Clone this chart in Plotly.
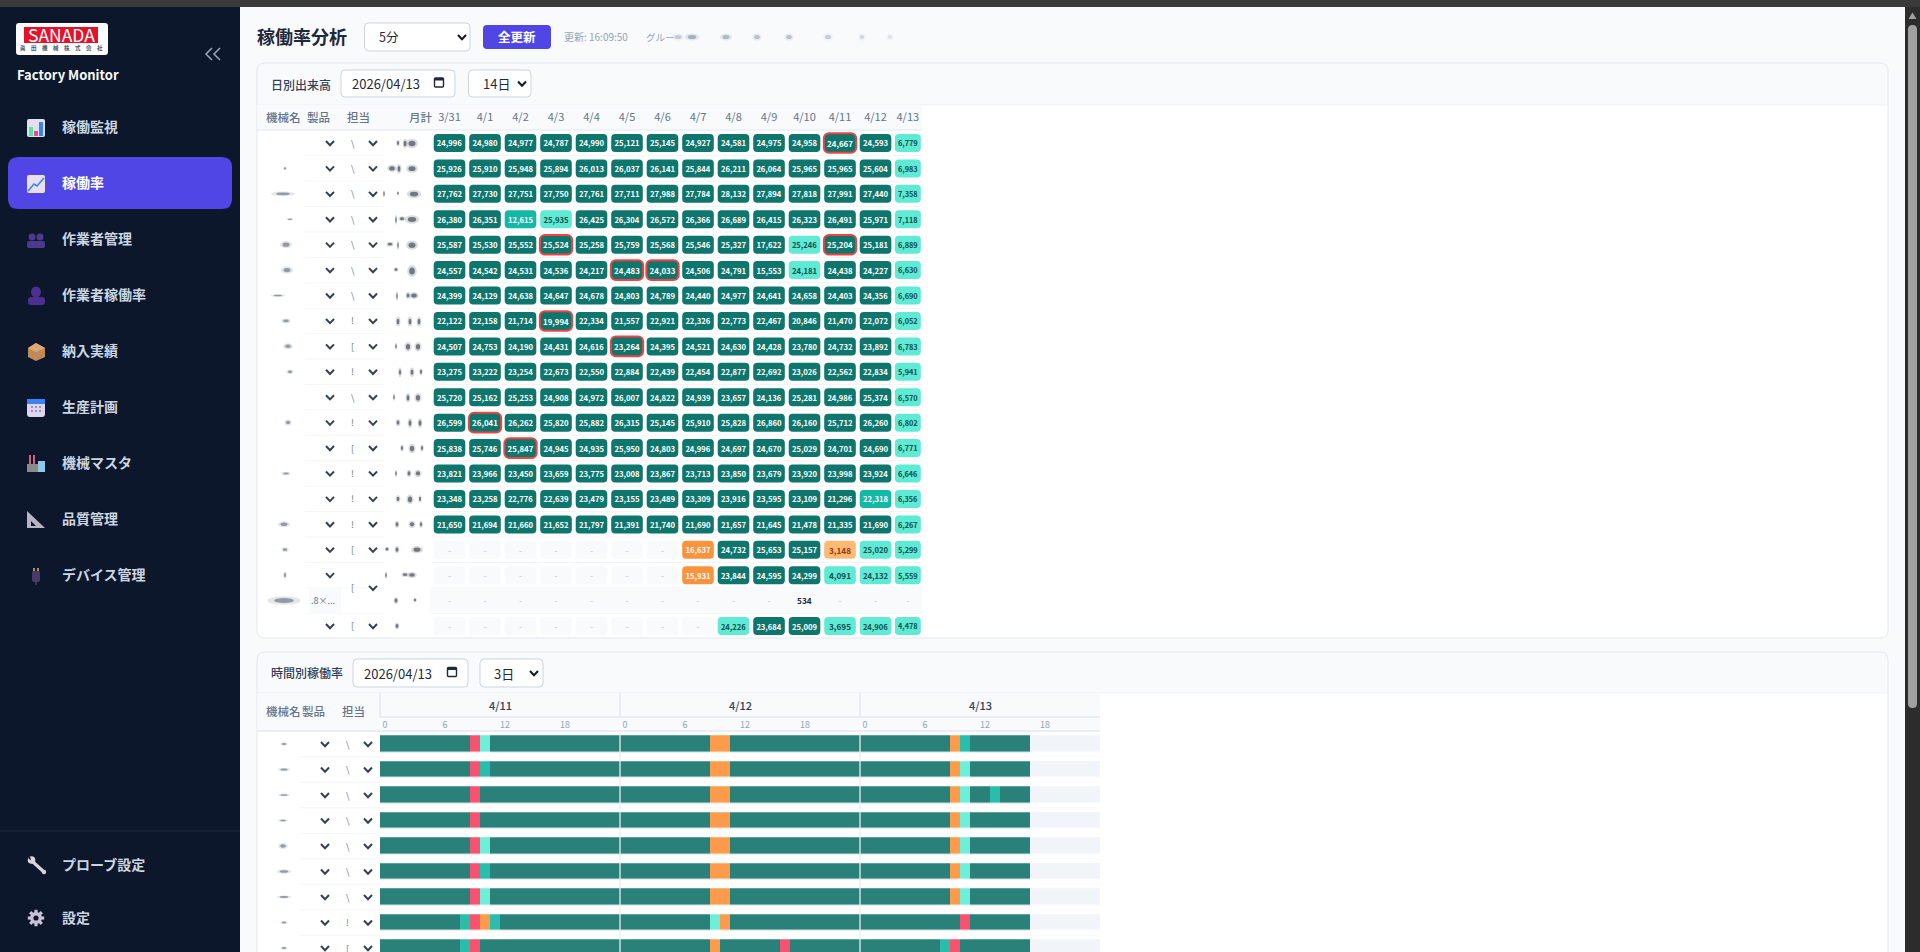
import math

import plotly.graph_objects as go

W, H = 1920, 952
JP = "Noto Sans CJK JP"

# daily output table
dates = ["3/31", "4/1", "4/2", "4/3", "4/4", "4/5", "4/6", "4/7", "4/8", "4/9", "4/10", "4/11", "4/12", "4/13"]
row_01 = [24996, 24980, 24977, 24787, 24990, 25121, 25145, 24927, 24581, 24975, 24958, 24667, 24593, 6779]
row_02 = [25926, 25910, 25948, 25894, 26013, 26037, 26141, 25844, 26211, 26064, 25965, 25965, 25604, 6983]
row_03 = [27762, 27730, 27751, 27750, 27761, 27711, 27988, 27784, 28132, 27894, 27818, 27991, 27440, 7358]
row_04 = [26380, 26351, 12615, 25935, 26425, 26304, 26572, 26366, 26689, 26415, 26323, 26491, 25971, 7118]
row_05 = [25587, 25530, 25552, 25524, 25258, 25759, 25568, 25546, 25327, 17622, 25246, 25204, 25181, 6889]
row_06 = [24557, 24542, 24531, 24536, 24217, 24483, 24033, 24506, 24791, 15553, 24181, 24438, 24227, 6630]
row_07 = [24399, 24129, 24638, 24647, 24678, 24803, 24789, 24440, 24977, 24641, 24658, 24403, 24356, 6690]
row_08 = [22122, 22158, 21714, 19994, 22334, 21557, 22921, 22326, 22773, 22467, 20846, 21470, 22072, 6052]
row_09 = [24507, 24753, 24190, 24431, 24616, 23264, 24395, 24521, 24630, 24428, 23780, 24732, 23892, 6783]
row_10 = [23275, 23222, 23254, 22673, 22550, 22884, 22439, 22454, 22877, 22692, 23026, 22562, 22834, 5941]
row_11 = [25720, 25162, 25253, 24908, 24972, 26007, 24822, 24939, 23657, 24136, 25281, 24986, 25374, 6570]
row_12 = [26599, 26041, 26262, 25820, 25882, 26315, 25145, 25910, 25828, 26860, 26160, 25712, 26260, 6802]
row_13 = [25838, 25746, 25847, 24945, 24935, 25950, 24803, 24996, 24697, 24670, 25029, 24701, 24690, 6771]
row_14 = [23821, 23966, 23450, 23659, 23775, 23008, 23867, 23713, 23850, 23679, 23920, 23998, 23924, 6646]
row_15 = [23348, 23258, 22776, 22639, 23479, 23155, 23489, 23309, 23916, 23595, 23109, 21296, 22318, 6356]
row_16 = [21650, 21694, 21660, 21652, 21797, 21391, 21740, 21690, 21657, 21645, 21478, 21335, 21690, 6267]
row_17 = [None, None, None, None, None, None, None, 16637, 24732, 25653, 25157, 3148, 25020, 5299]
row_18 = [None, None, None, None, None, None, None, 15931, 23844, 24595, 24299, 4091, 24132, 5559]
row_19 = [None, None, None, None, None, None, None, None, None, None, 534, None, None, None]
row_20 = [None, None, None, None, None, None, None, None, 24226, 23684, 25009, 3695, 24906, 4478]
daily_rows = [row_01, row_02, row_03, row_04, row_05, row_06, row_07, row_08, row_09, row_10,
              row_11, row_12, row_13, row_14, row_15, row_16, row_17, row_18, row_19, row_20]

# D dark, M mid, L light, O orange, P peach, E empty, X plain
daily_state = [
    "DDDDDDDDDDDDDL", "DDDDDDDDDDDDDL", "DDDDDDDDDDDDDL", "DDMLDDDDDDDDDL", "DDDDDDDDDDLDDL",
    "DDDDDDDDDDLDDL", "DDDDDDDDDDDDDL", "DDDDDDDDDDDDDL", "DDDDDDDDDDDDDL", "DDDDDDDDDDDDDL",
    "DDDDDDDDDDDDDL", "DDDDDDDDDDDDDL", "DDDDDDDDDDDDDL", "DDDDDDDDDDDDDL", "DDDDDDDDDDDDML",
    "DDDDDDDDDDDDDL", "EEEEEEEODDDPLL", "EEEEEEEODDDLLL", "XXXXXXXXXXXXXX", "EEEEEEEELDDLLL",
]
flagged_cells = [(0, 11), (4, 3), (4, 11), (5, 5), (5, 6), (7, 3), (8, 5), (11, 1), (12, 2)]
# what is left visible of the clipped 担当 column
daily_clipped = ["\\", "\\", "\\", "\\", "\\", "\\", "\\", "!", "[", "!", "\\", "!", "[", "!", "!", "!", "[", "", "[", "["]
timeline_clipped = ["\\", "\\", "\\", "\\", "\\", "\\", "\\", "!", "["]

# hourly timeline, 3 days per row
day_labels = ["4/11", "4/12", "4/13"]
hour_ticks = [0, 6, 12, 18]
hours_01 = "GGGGGGGGGRLGGGGGGGGGGGGG" + "GGGGGGGGGOOGGGGGGGGGGGGG" + "GGGGGGGGGOMGGGGGGNNNNNNN"
hours_02 = "GGGGGGGGGRMGGGGGGGGGGGGG" + "GGGGGGGGGOOGGGGGGGGGGGGG" + "GGGGGGGGGOLGGGGGGNNNNNNN"
hours_03 = "GGGGGGGGGRGGGGGGGGGGGGGG" + "GGGGGGGGGOOGGGGGGGGGGGGG" + "GGGGGGGGGOLGGMGGGNNNNNNN"
hours_04 = "GGGGGGGGGRGGGGGGGGGGGGGG" + "GGGGGGGGGOOGGGGGGGGGGGGG" + "GGGGGGGGGOLGGGGGGNNNNNNN"
hours_05 = "GGGGGGGGGRLGGGGGGGGGGGGG" + "GGGGGGGGGOOGGGGGGGGGGGGG" + "GGGGGGGGGOLGGGGGGNNNNNNN"
hours_06 = "GGGGGGGGGRMGGGGGGGGGGGGG" + "GGGGGGGGGOOGGGGGGGGGGGGG" + "GGGGGGGGGOLGGGGGGNNNNNNN"
hours_07 = "GGGGGGGGGRLGGGGGGGGGGGGG" + "GGGGGGGGGOOGGGGGGGGGGGGG" + "GGGGGGGGGOLGGGGGGNNNNNNN"
hours_08 = "GGGGGGGGMROMGGGGGGGGGGGG" + "GGGGGGGGGLOGGGGGGGGGGGGG" + "GGGGGGGGGGRGGGGGGNNNNNNN"
hours_09 = "GGGGGGGGMRGGGGGGGGGGGGGG" + "GGGGGGGGGOGGGGGGRGGGGGGG" + "GGGGGGGGMRGGGGGGGNNNNNNN"
timeline_rows = [hours_01, hours_02, hours_03, hours_04, hours_05, hours_06, hours_07, hours_08, hours_09]

nav_items = ["稼働監視", "稼働率", "作業者管理", "作業者稼働率", "納入実績", "生産計画", "機械マスタ", "品質管理", "デバイス管理"]
bottom_items = ["プローブ設定", "設定"]

state_fill = {"D": "#0f766e", "M": "#14b8a6", "L": "#5eead4", "O": "#fb923c", "P": "#fdba74",
              "E": "#f8fafc", "X": "rgba(0,0,0,0)"}
state_text = {"D": "#ffffff", "M": "#ffffff", "L": "#134e4a", "O": "#ffffff", "P": "#9a3412",
              "E": "#cbd5e1", "X": "#cbd5e1"}
hour_codes = "GRLMON"
hour_colors = ["#2a817a", "#f5536f", "#70eeda", "#2bbdab", "#fd9b4d", "#f1f5f9"]

shapes = []
notes = []


def fx(x):
    return x / W


def fy(y):
    return 1 - y / H


def rect(x0, y0, x1, y1, fill, layer="below"):
    shapes.append(dict(type="rect", xref="paper", yref="paper", x0=fx(x0), x1=fx(x1), y0=fy(y0), y1=fy(y1),
                       fillcolor=fill, line=dict(width=0), layer=layer))


def rrect(x0, y0, x1, y1, r, fill, line=None, lw=1, layer="below"):
    a, b, c, d = fx(x0), fx(x1), fy(y0), fy(y1)
    rx, ry = r / W, r / H
    p = (f"M {a+rx} {c} L {b-rx} {c} Q {b} {c} {b} {c-ry} L {b} {d+ry} Q {b} {d} {b-rx} {d} "
         f"L {a+rx} {d} Q {a} {d} {a} {d+ry} L {a} {c-ry} Q {a} {c} {a+rx} {c} Z")
    shapes.append(dict(type="path", xref="paper", yref="paper", path=p, fillcolor=fill,
                       line=dict(color=line or "rgba(0,0,0,0)", width=lw if line else 0), layer=layer))


def poly(points, color=None, width=1, fill=None, closed=False, layer="below"):
    p = "M " + " L ".join(f"{fx(x)} {fy(y)}" for x, y in points) + (" Z" if closed else "")
    shapes.append(dict(type="path", xref="paper", yref="paper", path=p, fillcolor=fill or "rgba(0,0,0,0)",
                       line=dict(color=color or "rgba(0,0,0,0)", width=width if color else 0), layer=layer))


def disc(cx, cy, rx, ry, fill, opacity=1, layer="below"):
    shapes.append(dict(type="circle", xref="paper", yref="paper", x0=fx(cx - rx), x1=fx(cx + rx), y0=fy(cy - ry),
                       y1=fy(cy + ry), fillcolor=fill, opacity=opacity, line=dict(width=0), layer=layer))


def label(x, y, text, size=12, color="#334155", weight=400, anchor="left"):
    notes.append(dict(x=fx(x), y=fy(y - 1), xref="paper", yref="paper", text=text, showarrow=False, xanchor=anchor,
                      yanchor="middle", align="left", borderpad=0,
                      font=dict(family=JP, size=size, color=color, weight=weight)))


def chevron(x, y, half=4, color="#334155"):
    poly([(x - half, y - 2), (x, y + 2.2), (x + half, y - 2)], color=color, width=2)


def smudge(x, y, w, h, color="#334155", alpha=0.75):
    disc(x, y, w * 1.2, h * 1.2, color, alpha * 0.2, layer="above")
    disc(x, y, w * 0.7, h * 0.7, color, alpha * 0.7, layer="above")


def date_input(x0, y0, x1, y1, text):
    rrect(x0, y0, x1, y1, 4, "#ffffff", "#cbd5e1")
    label(x0 + 10, (y0 + y1) / 2 + 1, text, 13, "#1e293b")
    cx, cy = x1 - 16, (y0 + y1) / 2 - 1
    rrect(cx - 4.5, cy - 4.5, cx + 4.5, cy + 4.5, 1, "rgba(0,0,0,0)", "#1e293b", 1.4)
    rect(cx - 4.5, cy - 4.5, cx + 4.5, cy - 2, "#1e293b")


def select_box(x0, y0, x1, y1, text):
    rrect(x0, y0, x1, y1, 4, "#ffffff", "#cbd5e1")
    label(x0 + 13, (y0 + y1) / 2 + 1, text, 13, "#1e293b")
    chevron(x1 - 9, (y0 + y1) / 2, 4, "#111827")


def card(x0, y0, x1, y1, head_bottom):
    rrect(x0, y0, x1, y1, 8, "#ffffff")
    rrect(x0, y0, x1, y0 + 20, 8, "#f8fafc")
    rect(x0, y0 + 10, x1, head_bottom, "#f8fafc")
    rrect(x0, y0, x1, y1, 8, "rgba(0,0,0,0)", "#e2e8f0")
    poly([(x0, head_bottom), (x1, head_bottom)], "#eef2f7")


# page, browser bar and scrollbar
rect(0, 0, W, H, "#f8fafc")
rect(0, 7, 240, H, "#0d172b")
rect(0, 0, W, 7, "#3a3a3a")
rect(1905, 7, W, H, "#2c2c2c")
poly([(1908.5, 19), (1912.5, 12.5), (1916.5, 19)], fill="#a0a0a0", closed=True)
rrect(1908, 25, 1917, 708, 4.5, "#a0a0a0")

# logo
rrect(16, 23, 108, 55, 3, "#ffffff")
rect(24, 27, 98, 43, "#e5112b")
label(61, 36, "SANADA", 17.5, "#ffffff", anchor="center")
label(61, 49, "眞　田　機　械　株　式　会　社", 5.5, "#475569", 700, anchor="center")
label(16, 76, "Factory Monitor", 13, "#f8fafc", 700)
poly([(212, 48), (206, 54), (212, 60)], "#94a3b8", 1.6)
poly([(220, 48), (214, 54), (220, 60)], "#94a3b8", 1.6)

rrect(8, 157, 232, 209, 10, "#4f46e5")
for i, name in enumerate(nav_items):
    label(61, 127 + 56 * i, name, 14, "#ffffff" if i == 1 else "#cbd5e1", 700)
poly([(0, 831), (240, 831)], "#1f2a40")
label(61, 865, bottom_items[0], 14, "#cbd5e1", 700)
label(61, 918, bottom_items[1], 14, "#cbd5e1", 700)

# sidebar icons
rrect(27, 119, 45, 137, 2, "#e2e0ee")
rect(29, 127, 33, 136, "#5ee0a0")
rect(34, 131, 38, 136, "#ec4899")
rect(39, 122, 43, 136, "#3b82f6")
rrect(27, 175, 45, 193, 2, "#e7e0ea")
poly([(28, 191), (34, 184), (37, 186), (44, 178)], "#3b82f6", 1.6)
for cx in (32, 40):
    disc(cx, 237, 3.5, 3.5, "#4c3a8e")
    rrect(cx - 5, 241, cx + 5, 248, 2, "#4c3a8e")
disc(36, 292, 5, 5.5, "#4c2f8e")
rrect(28, 297, 45, 305, 3, "#4c2f8e")
poly([(36, 343), (45, 348), (45, 357), (36, 361), (28, 357), (28, 348)], fill="#c08a58", closed=True)
poly([(28, 348), (36, 352), (45, 348), (36, 343)], fill="#dcaa78", closed=True)
rrect(27, 399, 45, 417, 3, "#ddd6ee")
rect(27, 399, 45, 404, "#3b82f6")
for gx in (32, 36, 40):
    for gy in (407, 411):
        rect(gx - 1, gy - 1, gx + 1, gy + 1, "#9a93b8")
rect(27, 464, 38, 472, "#8a8a8a")
rect(29, 455, 31, 464, "#d0607c")
rect(33, 455, 35, 464, "#d0607c")
rect(38, 461, 45, 472, "#8fc8e8")
poly([(27, 511), (45, 528), (27, 528)], fill="#b8b4c4", closed=True)
poly([(31, 521), (36, 526), (31, 526)], fill="#0d172b", closed=True)
rect(33, 568, 35, 572, "#a89060")
rect(37, 568, 39, 572, "#a89060")
rrect(32, 571, 40, 582, 2, "#4a3a68")
rect(35, 582, 37, 585, "#3a3a48")
# wrench
poly([(33, 862), (44, 872)], "#d8d4e0", 3.2)
disc(31.5, 860, 3.8, 3.8, "#d8d4e0")
poly([(28, 858), (31, 860.5), (30, 856)], fill="#0d172b", closed=True)
disc(44, 872, 2.2, 2.2, "#d8d4e0")
# gear
for k in range(8):
    a = k * math.pi / 4
    poly([(36 + 4 * math.cos(a), 918 + 4 * math.sin(a)), (36 + 8.2 * math.cos(a), 918 + 8.2 * math.sin(a))],
         "#c8c0d8", 3.2)
disc(36, 918, 6, 6, "#c8c0d8")
disc(36, 918, 2.6, 2.6, "#0d172b")

# top toolbar
label(256, 37, "稼働率分析", 18, "#1e293b", 700)
rrect(364.5, 23, 470, 51, 4, "#ffffff", "#cbd5e1")
label(378, 38, "5分", 12.5, "#1e293b")
chevron(462, 37, 4, "#111827")
rrect(483, 25, 551, 49, 4, "#4f46e5")
label(517, 37.5, "全更新", 12.5, "#ffffff", 700, "center")
label(563, 38, "更新: 16:09:50", 10, "#94a3b8")
label(645, 38, "グルー", 9.5, "#94a3b8")
for sx, sw, sa in [(678, 5, 0.4), (692, 6, 0.7), (726, 5, 0.6), (757, 4, 0.5), (789, 4, 0.5), (828, 4, 0.4),
                   (862, 3, 0.3), (890, 3, 0.2)]:
    smudge(sx, 37, sw, 3, "#64748b", sa)

# daily card
card(257, 63, 1888, 638, 105)
label(270, 85, "日別出来高", 12, "#334155", 500)
date_input(341, 70, 455, 97, "2026/04/13")
select_box(468.5, 70, 531, 97, "14日")
rect(257.5, 105.5, 922, 130, "#f8fafc")
poly([(257, 130), (922, 130)], "#e2e8f0")
for text, tx in [("機械名", 265), ("製品", 306), ("担当", 346), ("月計", 408)]:
    label(tx, 117.5, text, 11.5, "#64748b", 500)

for i, mark in enumerate(daily_clipped):
    ry = 143 + 25.42 * i
    if i:
        poly([(305, ry - 12.7), (385, ry - 12.7)], "#f4f6f9")
        poly([(432, ry - 12.7), (922, ry - 12.7)], "#f1f5f9")
    if i == 18:
        rect(430, ry - 12, 922, ry + 12, "#f8fafc")
        rect(309, ry - 12, 341, ry + 12, "#f8fafc")
        label(310, ry + 1, ".8×...", 9, "#64748b")
    else:
        chevron(330, ry)
    if i == 17:
        continue
    my = ry - 12.7 if i == 18 else ry
    chevron(373, my)
    label(349.5, my + 1, mark, 9, "#64748b")

# blurred-out names and monthly totals
name_blurs = [(1, 285, 1.5, 1.5), (2, 283, 10, 2), (3, 290, 3, 1), (4, 286, 5, 3), (5, 287, 5, 3), (6, 278, 6, 1.2),
              (7, 286, 4, 2), (8, 288, 4, 2.5), (9, 290, 3, 2), (11, 288, 3, 2.5), (13, 286, 4, 1.5), (15, 284, 5, 2.5),
              (16, 285, 3, 2), (17, 285, 1.5, 3), (18, 284, 14, 3.5)]
for row_i, bx, bw, bh in name_blurs:
    smudge(bx, 143 + 25.42 * row_i, bw, bh, "#475569", 0.75)
total_blurs = [
    [(398, 1.5, 3), (405, 2, 4), (412, 5, 4)], [(392, 4, 3), (399, 2, 4), (412, 5, 3.5)],
    [(384, 1, 3), (398, 1, 2), (414, 6, 3.5)], [(396, 1, 4), (402, 3, 2), (412, 6, 3.5)],
    [(390, 3, 2), (398, 1, 4), (412, 5, 4)], [(396, 2, 2), (412, 4, 5)], [(397, 1, 4), (408, 2, 3), (414, 4, 3)],
    [(398, 2, 4), (410, 2, 4), (419, 2, 4)], [(396, 1, 3), (408, 3, 4), (418, 3, 4)],
    [(400, 1.5, 4), (412, 2, 4), (421, 1.5, 3)], [(394, 1, 3), (408, 2, 4), (418, 3, 4)],
    [(398, 2, 3), (410, 2, 4), (420, 2, 4)], [(402, 1.5, 3), (412, 3, 4), (422, 1.5, 3)],
    [(396, 1, 3), (409, 2, 3), (418, 3, 3)], [(398, 2, 3), (410, 3, 4), (420, 1.5, 3)],
    [(397, 2, 3), (412, 3, 3), (421, 1.5, 3)], [(387, 2, 2), (397, 2, 3), (417, 5, 3)],
    [(386, 1, 3), (405, 3, 2), (412, 4, 2.5)], [(396, 2, 3), (415, 1.5, 2)], [(397, 2, 3)],
]
for i, strokes in enumerate(total_blurs):
    for bx, bw, bh in strokes:
        smudge(bx, 143 + 25.42 * i + (bh - 3) * 0.5, bw, bh, "#1e293b", 0.8)

# timeline card
card(257, 652, 1888, 1000, 693)
label(269.5, 673, "時間別稼働率", 12, "#334155", 500)
date_input(353, 659, 468, 687, "2026/04/13")
select_box(480, 659, 543, 687, "3日")
rect(257.5, 693.5, 1100, 731, "#f8fafc")
for text, tx in [("機械名", 265), ("製品", 301), ("担当", 341)]:
    label(tx, 712, text, 11.5, "#64748b", 500)
poly([(380, 717), (1100, 717)], "#e2e8f0", 1.3)
poly([(257, 731), (1100, 731)], "#e2e8f0", 1.3)
for vx in (380, 620, 860):
    poly([(vx, 693), (vx, 717)], "#e2e8f0", 1.3)
for vx in (620, 860):
    poly([(vx, 731), (vx, 952)], "#e8edf4", 1.3, layer="above")
for i, day in enumerate(day_labels):
    notes.append(dict(x=12 + 24 * i - 0.5, y=fy(705), xref="x2", yref="paper", text=day, showarrow=False,
                      yanchor="middle", font=dict(family=JP, size=11, color="#334155", weight=500)))
timeline_blurs = [(284, 3, 1.5), (284, 5, 1.5), (284, 5, 1.2), (283, 4, 1.2), (283, 4, 2.5), (284, 6, 1.8),
                  (284, 6, 1.3), (284, 3, 1.3), (284, 3, 1.5)]
for i, (mark, blur) in enumerate(zip(timeline_clipped, timeline_blurs)):
    ry = 744 + 25.5 * i
    if i:
        poly([(300, ry - 12.7), (380, ry - 12.7)], "#f4f6f9")
        poly([(380, ry - 12.7), (1100, ry - 12.7)], "#f8fafc")
    chevron(325, ry)
    chevron(368, ry)
    label(344.5, ry + 1, mark, 9, "#64748b")
    smudge(blur[0], ry, blur[1], blur[2], "#475569", 0.75)

# daily cells, flagged ones go in their own trace on top
col_pos = [float(i) for i in range(len(dates))]
col_pos[-1] = 12.91
cell_w = [0.89] * 13 + [0.73]
cell_h = 18 / 25.42

xs, bases, colors, texts, text_colors, widths = [], [], [], [], [], []
flag_x, flag_base, flag_color, flag_text, flag_text_color = [], [], [], [], []
for r, vals in enumerate(daily_rows):
    for c, v in enumerate(vals):
        st = daily_state[r][c]
        txt = "-" if v is None else f"{v:,}"
        if (r, c) in flagged_cells:
            flag_x.append(col_pos[c])
            flag_base.append(r - 9.8 / 25.42)
            flag_color.append(state_fill[st])
            flag_text.append(txt)
            flag_text_color.append(state_text[st])
            continue
        xs.append(col_pos[c])
        bases.append(r - cell_h / 2)
        colors.append(state_fill[st])
        texts.append(txt)
        text_colors.append("#1e293b" if v is not None and st == "X" else state_text[st])
        widths.append(cell_w[c])

fig = go.Figure()
fig.add_trace(go.Bar(
    x=xs, y=[cell_h] * len(xs), base=bases, width=widths, text=texts, xaxis="x", yaxis="y",
    marker=dict(color=colors, cornerradius=4, line=dict(width=0)),
    textposition="inside", insidetextanchor="middle", textangle=0, constraintext="none",
    textfont=dict(family=JP, size=11, color=text_colors, weight=700),
    hoverinfo="skip", showlegend=False,
))
fig.add_trace(go.Bar(
    x=flag_x, y=[19.6 / 25.42] * len(flag_x), base=flag_base, width=0.91, text=flag_text, xaxis="x", yaxis="y",
    marker=dict(color=flag_color, cornerradius=5, line=dict(width=2, color="#ef4444")),
    textposition="inside", insidetextanchor="middle", textangle=0, constraintext="none",
    textfont=dict(family=JP, size=11, color=flag_text_color, weight=700),
    hoverinfo="skip", showlegend=False,
))

# hourly timeline
n_codes = len(hour_codes)
scale = []
for k, col in enumerate(hour_colors):
    scale += [[k / n_codes, col], [(k + 1) / n_codes, col]]
fig.add_trace(go.Heatmap(
    z=[[hour_codes.index(ch) for ch in row] for row in timeline_rows],
    x=list(range(72)), y=list(range(len(timeline_rows))),
    colorscale=scale, zmin=-0.5, zmax=n_codes - 0.5, showscale=False, ygap=9.5,
    xaxis="x2", yaxis="y2", hoverinfo="skip",
))

tick_hours = [d * 24 + h for d in range(len(day_labels)) for h in hour_ticks]
tick_text = [str(h) for d in range(len(day_labels)) for h in hour_ticks]

fig.update_layout(
    width=W, height=H, margin=dict(l=0, r=0, t=0, b=0), autosize=False,
    paper_bgcolor="#f8fafc", plot_bgcolor="rgba(0,0,0,0)", barmode="overlay", showlegend=False,
    shapes=shapes, annotations=notes,
    xaxis=dict(domain=[fx(432), fx(925)], range=[-0.493, 13.394], side="top", anchor="y", tickvals=col_pos,
               ticktext=dates, tickfont=dict(family=JP, size=11, color="#64748b"), showgrid=False, zeroline=False,
               ticks="", showline=False, ticklabelstandoff=6),
    yaxis=dict(domain=[fy(636), fy(130)], range=[19.39, -0.511], anchor="x", showticklabels=False,
               showgrid=False, zeroline=False, ticks=""),
    xaxis2=dict(domain=[fx(380), fx(1100)], range=[-0.5, 71.5], side="top", anchor="y2", tickvals=tick_hours,
                ticktext=tick_text, tickfont=dict(family=JP, size=9, color="#94a3b8"), showgrid=False,
                zeroline=False, ticks="", showline=False),
    yaxis2=dict(domain=[0, fy(731)], range=[8.157, -0.51], anchor="x2", showticklabels=False,
                showgrid=False, zeroline=False, ticks=""),
)

fig.write_html("out.html", config=dict(displayModeBar=False),
               post_script="document.body.style.margin='0';document.body.style.overflow='hidden';")
